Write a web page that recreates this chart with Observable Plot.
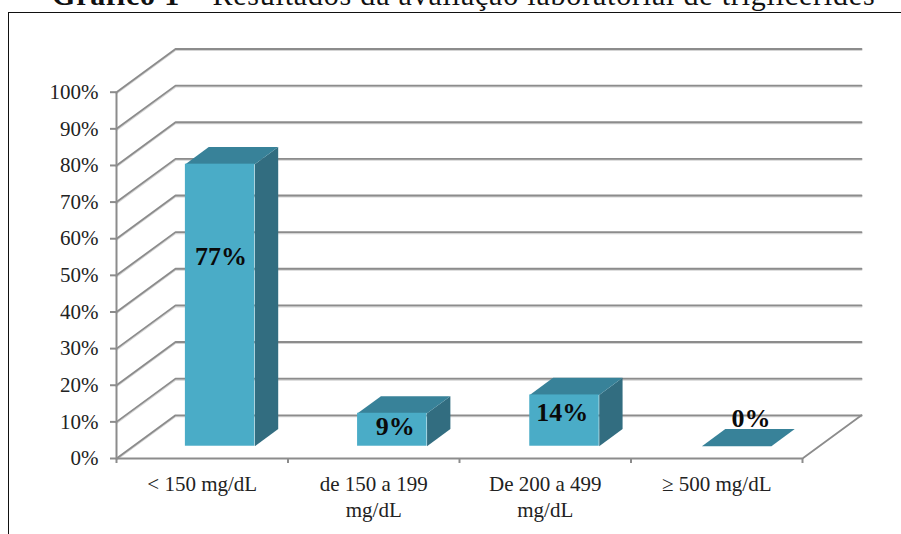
<!DOCTYPE html>
<html lang="pt">
<head>
<meta charset="utf-8">
<script src="https://cdn.jsdelivr.net/npm/d3@7"></script>
<script src="https://cdn.jsdelivr.net/npm/@observablehq/plot@0.6"></script>
<style>
  html, body { margin: 0; padding: 0; background: #fff; width: 901px; height: 534px; overflow: hidden; }
  #title {
    position: absolute; left: 52px; top: -20px; margin: 0;
    font: 400 30px/30px "Liberation Serif", serif; letter-spacing: 0.8px; white-space: nowrap; color: #111;
  }
  #box {
    position: absolute; left: 8px; top: 12px; width: 1000px; height: 1000px;
    border: 1.5px solid #111; box-sizing: border-box;
  }
  #chart { position: absolute; left: 0; top: 0; }
  #chart svg { display: block; background: transparent; }
</style>
</head>
<body>
<h1 id="title"><b>Gráfico 1</b> – Resultados da avaliação laboratorial de triglicerídes</h1>
<div id="box"></div>
<div id="chart"></div>
<script>
const categories = ["< 150 mg/dL", "de 150 a 199\nmg/dL", "De 200 a 499\nmg/dL", "≥ 500 mg/dL"];
const percentages = [77, 9, 14, 0];
const yTicks = d3.range(0, 101, 10);

// Where each value label sits, on the front plane of the chart.
const labelColumn = [0.609, 1.625, 2.599, 3.70];
const labelHeight = [55.1, 8.8, 12.5, 10.9];

// Oblique projection: a point at depth w (0 = front, 1 = back wall) shifts
// right by depthX category widths and up by depthY percentage points.
const depthX = 0.344;
const depthY = 11.8;
const projectX = (u, w) => u + w * depthX;
const projectY = (v, w) => v + w * depthY;

// Column footprint, in category units and depth fractions.
const barStart = (i) => 0.304 + i * 1.004;
const barWidth = 0.405;
const barNear = 0.284;
const barFar = 0.68;

const bars = percentages.map((value, i) => ({
  value,
  x1: projectX(barStart(i), barNear),
  x2: projectX(barStart(i) + barWidth, barNear),
  y1: projectY(0, barNear),
  y2: projectY(value, barNear)
}));

const polygon = (corners, face) => corners.map(([u, v, w]) => ({face, x: projectX(u, w), y: projectY(v, w)}));

const topFaces = percentages.flatMap((value, i) => {
  const a = barStart(i), b = a + barWidth;
  return polygon([[a, value, barNear], [b, value, barNear], [b, value, barFar], [a, value, barFar]], i);
});
const sideFaces = percentages.flatMap((value, i) => {
  const b = barStart(i) + barWidth;
  return polygon([[b, 0, barNear], [b, 0, barFar], [b, value, barFar], [b, value, barNear]], i);
});

// Wall gridlines: a slanted run along the side wall, then across the back.
const gridPaths = yTicks.flatMap((v) => [
  {tick: v, x: projectX(0, 0), y: projectY(v, 0)},
  {tick: v, x: projectX(0, 1), y: projectY(v, 1)},
  {tick: v, x: projectX(4, 1), y: projectY(v, 1)}
]);
const floorEdge = [
  {x: projectX(4, 0), y: projectY(0, 0)},
  {x: projectX(4, 1), y: projectY(0, 1)}
];

const lineGray = "#8c8c8c";
const haloGray = "#d4d4d4";
const serif = "'Liberation Serif', serif";

const chart = Plot.plot({
  width: 901,
  height: 534,
  marginLeft: 116,
  marginRight: 99,
  marginTop: 92,
  marginBottom: 76,
  style: {background: "transparent", fontFamily: serif, overflow: "visible"},
  x: {type: "linear", domain: [0, 4], range: [116, 802]},
  y: {type: "linear", domain: [0, 100], range: [458, 91.7]},
  marks: [
    // soft line just below each gridline
    Plot.line(gridPaths, {x: "x", y: "y", z: "tick", stroke: haloGray, strokeWidth: 2, dy: 1}),
    Plot.line(gridPaths, {x: "x", y: "y", z: "tick", stroke: lineGray, strokeWidth: 1.8}),
    Plot.line(floorEdge, {x: "x", y: "y", stroke: lineGray, strokeWidth: 1.8}),

    // box columns
    Plot.line(sideFaces, {x: "x", y: "y", z: "face", fill: "#326d80", stroke: "none"}),
    Plot.line(topFaces, {x: "x", y: "y", z: "face", fill: "#388299", stroke: "none"}),
    Plot.rect(bars, {x1: "x1", x2: "x2", y1: "y1", y2: "y2", fill: "#4aacc7"}),

    // front axes
    Plot.ruleX([0], {y1: 0, y2: 100, stroke: lineGray, strokeWidth: 2}),
    Plot.ruleY([0], {x1: 0, x2: 4, stroke: lineGray, strokeWidth: 2}),
    Plot.axisY({
      ticks: yTicks, tickFormat: (d) => `${d}%`, tickSize: 6, tickPadding: 12,
      stroke: lineGray, strokeWidth: 2, fontSize: 21, fill: "#222", label: null
    }),
    Plot.axisX({
      ticks: [0, 1, 2, 3, 4], tickFormat: () => "", tickSize: 5,
      stroke: lineGray, strokeWidth: 2, label: null
    }),

    // category labels under the floor
    Plot.text(categories, {
      x: (d, i) => i + 0.5, y: 0, text: (d) => d, dy: 15, lineAnchor: "top", lineHeight: 1.2,
      fontSize: 21, fill: "#222"
    }),

    // value labels
    Plot.text(percentages, {
      x: (d, i) => labelColumn[i], y: (d, i) => labelHeight[i], text: (d) => `${d}%`,
      fontSize: 26, fontWeight: "bold", fill: "#0a0a0a"
    })
  ]
});
document.getElementById("chart").append(chart);
</script>
</body>
</html>
